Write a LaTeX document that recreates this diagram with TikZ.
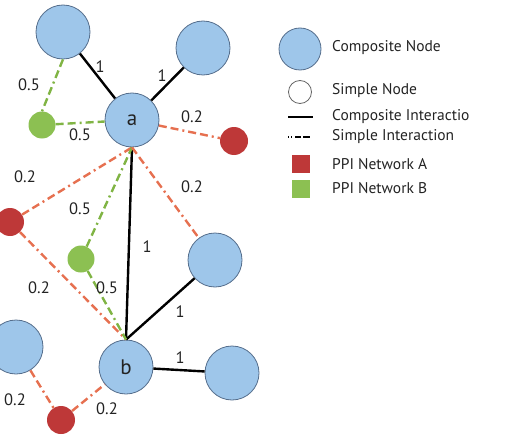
\documentclass[tikz,border=0pt]{standalone}
\usepackage{fontspec}
\setmainfont{PT Sans}
\definecolor{compfill}{RGB}{158,198,234}
\definecolor{compdraw}{RGB}{85,110,140}
\definecolor{redA}{RGB}{190,56,56}
\definecolor{greenB}{RGB}{140,192,82}
\definecolor{lineA}{RGB}{230,112,80}
\definecolor{lineB}{RGB}{128,180,68}
\definecolor{txt}{RGB}{35,35,35}
\tikzset{
  comp/.style={circle, fill=compfill, draw=compdraw, line width=0.8pt, minimum size=54pt, inner sep=0pt, text=txt, font=\fontsize{21}{23}\selectfont},
  simpA/.style={circle, fill=redA, minimum size=28pt, inner sep=0pt},
  simpB/.style={circle, fill=greenB, minimum size=27pt, inner sep=0pt},
  cedge/.style={draw=black, line width=2.4pt},
  aedge/.style={draw=lineA, line width=2.4pt, dash pattern=on 8pt off 4pt on 8pt off 4pt on 2pt off 4pt},
  bedge/.style={draw=lineB, line width=2.4pt, dash pattern=on 8pt off 4pt on 8pt off 4pt on 2pt off 4pt},
  lbl/.style={text=txt, font=\fontsize{16.5}{18}\selectfont, inner sep=0pt},
  legtxt/.style={text=txt, font=\fontsize{15.5}{17}\selectfont, anchor=west, inner sep=0pt},
}
\begin{document}
\begin{tikzpicture}[x=1pt,y=-1pt]
\useasboundingbox (0,0) rectangle (508,441);
% composite nodes
\node[comp] (tl) at (63,32) {};
\node[comp] (tr) at (203,48) {};
\node[comp] (a) at (132,120) {a};
\node[comp] (rm) at (215,260) {};
\node[comp] (lb) at (16,347) {};
\node[comp] (b) at (126,367) {b};
\node[comp] (br) at (232,373) {};
% simple nodes
\node[simpB] (gt) at (42,125) {};
\node[simpA] (rr) at (234,141) {};
\node[simpA] (rl) at (10,222) {};
\node[simpB] (gm) at (81,259) {};
\node[simpA] (rb) at (61,420) {};
% composite interactions
\draw[cedge] (a) -- (tl);
\draw[cedge] (a) -- (tr);
\draw[cedge] (a.south) -- (b.north);
\draw[cedge] (b.north) -- (rm);
\draw[cedge] (b) -- (br);
% simple interactions
\draw[bedge] (tl.south) -- (gt.north);
\draw[bedge] (gt) -- (a);
\draw[aedge] (a) -- (rr);
\draw[aedge] (rl) -- (a.south);
\draw[bedge] (gm) -- (a.south);
\draw[aedge] (a.south) -- (rm);
\draw[aedge] (rl) -- (b.north);
\draw[bedge] (gm) -- (b.north);
\draw[aedge] (lb) -- (rb);
\draw[aedge] (rb) -- (b);
% labels
\node[lbl] (l1) at (100,67) {1};
\node[lbl] (l2) at (162,76) {1};
\node[lbl] (l3) at (29,85) {0.5};
\node[lbl] (l4) at (80,135) {0.5};
\node[lbl] (l5) at (192,117) {0.2};
\node[lbl] (l6) at (25,177) {0.2};
\node[lbl] (l7) at (80,209) {0.5};
\node[lbl] (l8) at (192,187) {0.2};
\node[lbl] (l9) at (147,247) {1};
\node[lbl] (l10) at (39,288) {0.2};
\node[lbl] (l11) at (107,288) {0.5};
\node[lbl] (l12) at (180,312) {1};
\node[lbl] (l13) at (180,358) {1};
\node[lbl] (l14) at (15,400) {0.2};
\node[lbl] (l15) at (107,409) {0.2};
% legend
\node[circle, fill=compfill, draw=compdraw, line width=0.8pt, minimum size=42pt, inner sep=0pt] (kc) at (300,49) {};
\node[legtxt] (tc) at (332,48) {Composite Node};
\node[circle, fill=white, draw=gray!80!black, line width=0.8pt, minimum size=23pt, inner sep=0pt] (ks) at (300,92) {};
\node[legtxt] (ts) at (332,91) {Simple Node};
\coordinate (ci1) at (288,117);
\coordinate (ci2) at (313,117);
\draw[black, line width=2pt] (ci1) -- (ci2);
\node[legtxt] (tci) at (332,117) {Composite Interactio};
\coordinate (si1) at (288,137);
\coordinate (si2) at (313,137);
\draw[black, line width=2pt, dash pattern=on 1pt off 2pt on 1pt off 3pt on 6pt off 2pt on 7pt off 20pt] (si1) -- (si2);
\node[legtxt] (tsi) at (332,137) {Simple Interaction};
\node[fill=redA, minimum size=18pt, inner sep=0pt] (ka) at (301,164) {};
\node[legtxt] (ta) at (332,164) {PPI Network A};
\node[fill=greenB, minimum size=18pt, inner sep=0pt] (kb) at (301,189) {};
\node[legtxt] (tb) at (332,188) {PPI Network B};
\end{tikzpicture}
\end{document}
